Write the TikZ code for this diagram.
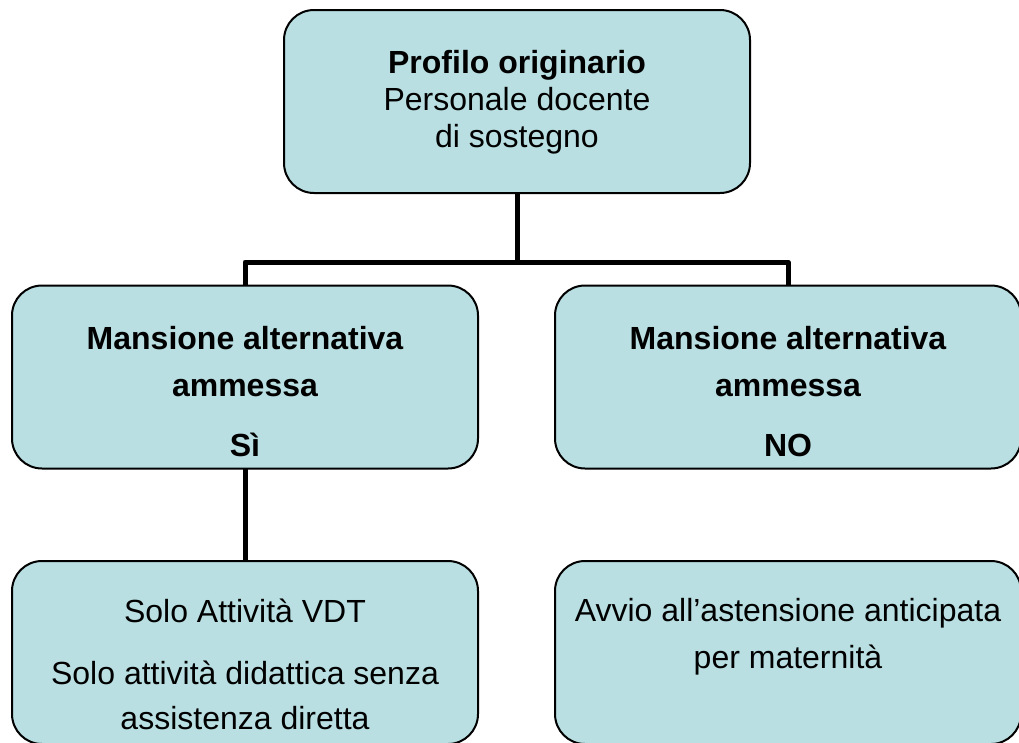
\documentclass[tikz,border=0pt]{standalone}
\usepackage{fontspec}
\setmainfont{Liberation Sans}
\definecolor{boxfill}{RGB}{185,223,226}
\begin{document}
\begin{tikzpicture}[x=1pt,y=-1pt,
  box/.style={draw=black,line width=2pt,fill=boxfill,rounded corners=30pt,
    minimum width=466pt,minimum height=183pt,inner sep=0pt,outer sep=0pt},
  txt/.style={align=center,inner sep=0pt,font=\fontsize{32}{37}\selectfont},
  conn/.style={line width=5pt,line join=round,line cap=butt}]
\useasboundingbox (0,0) rectangle (1019,742);
% boxes
\node[box] (top) at (517,101.5) {};
\node[box] (ml) at (245,377) {};
\node[box] (mr) at (788,377) {};
\node[box] (bl) at (245,652.5) {};
\node[box] (br) at (788,652.5) {};
% texts
\node[txt] (toptext) at (517,102.5) {\textbf{Profilo originario}\\Personale docente\\di sostegno};
\node[txt,font=\fontsize{32}{47}\selectfont\bfseries] (mltext) at (245,391.5) {Mansione alternativa\\ammessa\\[13pt]Sì};
\node[txt,font=\fontsize{32}{47}\selectfont\bfseries] (mrtext) at (788,391.5) {Mansione alternativa\\ammessa\\[13pt]NO};
\node[txt,font=\fontsize{32}{45}\selectfont] (bltext) at (245,664.5) {Solo Attività VDT\\[17pt]Solo attività didattica senza\\assistenza diretta};
\node[txt,font=\fontsize{32}{47}\selectfont] (brtext) at (788,636.5) {Avvio all’astensione anticipata\\per maternità};
% connectors
\coordinate (bus) at (517,262);
\draw[conn] (top.south) -- (bus);
\draw[conn] (ml.north) -- (ml.north |- bus) -- (mr.north |- bus) -- (mr.north);
\draw[conn] (ml.south) -- (bl.north);
\end{tikzpicture}
\end{document}
